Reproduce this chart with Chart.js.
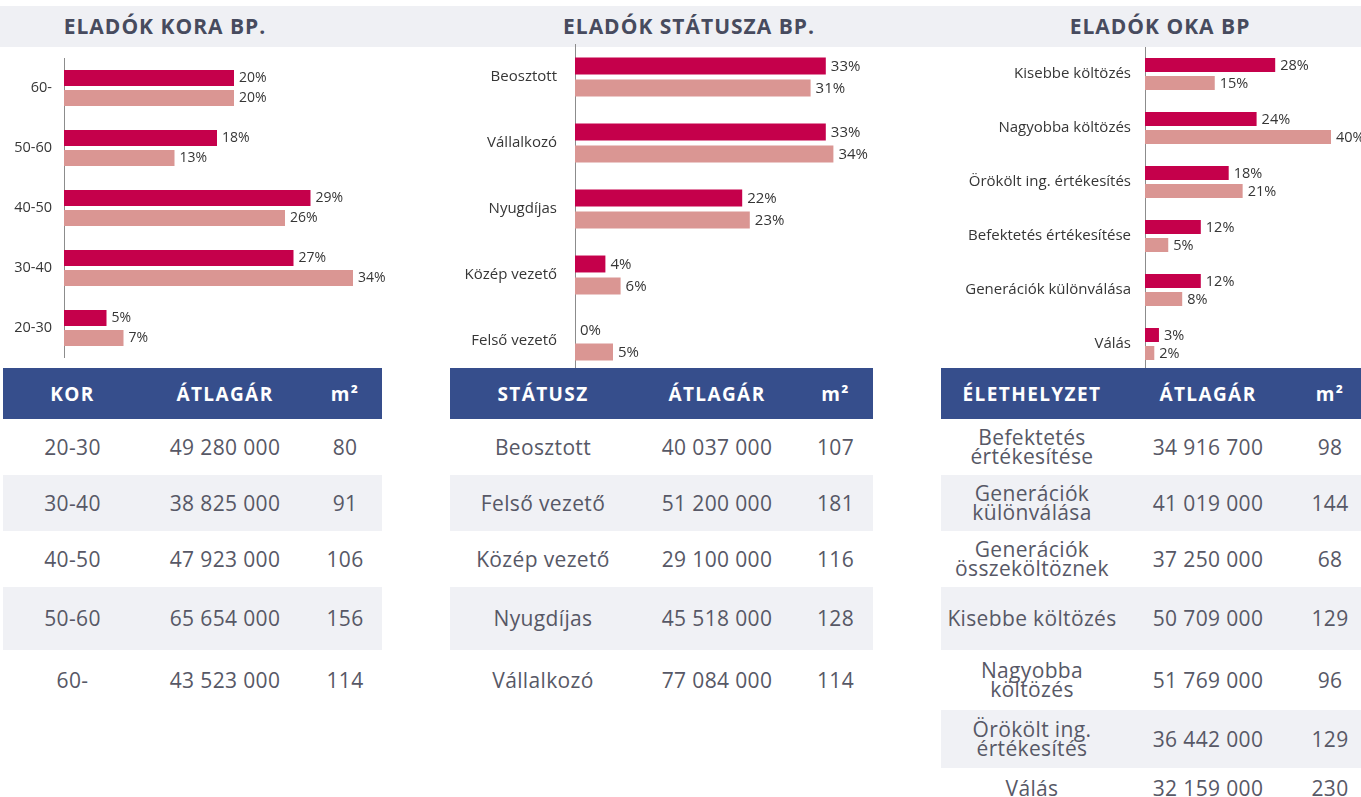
<!DOCTYPE html>
<html lang="hu">
<head>
<meta charset="utf-8">
<title>Eladók Budapesten</title>
<script src="https://cdn.jsdelivr.net/npm/chart.js@4/dist/chart.umd.min.js"></script>
<style>
  html, body { margin: 0; padding: 0; background: #fff; }
  body { width: 1361px; height: 797px; position: relative; overflow: hidden; font-family: 'Open Sans', sans-serif; }
  .band { position: absolute; left: 0; top: 6px; width: 1361px; height: 41px; background: #eff0f4; }
  .title { position: absolute; top: 6px; height: 41px; line-height: 41px; font-weight: 700; font-size: 21px;
           color: #474b5e; letter-spacing: 1px; transform: translateX(-50%); white-space: nowrap; }
  canvas { position: absolute; }
  table { position: absolute; top: 368px; border-collapse: collapse; table-layout: fixed; color: #575866;
          font-size: 21px; letter-spacing: 0.35px; z-index: 2; background: #fff; }
  th { background: #364e8c; color: #fff; font-weight: 700; font-size: 19px; letter-spacing: 1.4px; height: 51px; padding: 0; text-align: center; }
  td { padding: 0; text-align: center; white-space: pre-line; line-height: 19px; }
  tbody tr:nth-child(even) td { background: #f0f1f5; }
  tbody tr:nth-child(1) td, tbody tr:nth-child(2) td, tbody tr:nth-child(3) td { height: 56px; }
  tbody tr:nth-child(4) td { height: 63px; }
  tbody tr:nth-child(5) td { height: 60px; }
  tbody tr:nth-child(6) td { height: 58px; }
  tbody tr:nth-child(7) td { height: 40px; }
  #t-kor { left: 3px; width: 379px; }
  #t-statusz { left: 450px; width: 423px; }
  #t-ok { left: 941px; width: 426px; }
</style>
</head>
<body>
<div class="band"></div>
<div class="title" style="left:165px">ELADÓK KORA BP.</div>
<div class="title" style="left:689px">ELADÓK STÁTUSZA BP.</div>
<div class="title" style="left:1160px">ELADÓK OKA BP</div>

<canvas id="c-kor" width="404" height="300" style="left:0;top:58px"></canvas>
<canvas id="c-statusz" width="470" height="330" style="left:420px;top:44px"></canvas>
<canvas id="c-ok" width="411" height="324" style="left:950px;top:47px"></canvas>

<table id="t-kor">
  <colgroup><col style="width:139px"><col style="width:166px"><col style="width:74px"></colgroup>
  <thead><tr><th>KOR</th><th>ÁTLAGÁR</th><th>m²</th></tr></thead>
  <tbody></tbody>
</table>
<table id="t-statusz">
  <colgroup><col style="width:186px"><col style="width:162px"><col style="width:75px"></colgroup>
  <thead><tr><th>STÁTUSZ</th><th>ÁTLAGÁR</th><th>m²</th></tr></thead>
  <tbody></tbody>
</table>
<table id="t-ok">
  <colgroup><col style="width:182px"><col style="width:170px"><col style="width:74px"></colgroup>
  <thead><tr><th>ÉLETHELYZET</th><th>ÁTLAGÁR</th><th>m²</th></tr></thead>
  <tbody></tbody>
</table>

<script>
// --- Eladók kora (%)
const korLabels = ['60-', '50-60', '40-50', '30-40', '20-30'];
const korDark = [20, 18, 29, 27, 5];
const korLight = [20, 13, 26, 34, 7];

// --- Eladók státusza (%)
const statuszLabels = ['Beosztott', 'Vállalkozó', 'Nyugdíjas', 'Közép vezető', 'Felső vezető'];
const statuszDark = [33, 33, 22, 4, 0];
const statuszLight = [31, 34, 23, 6, 5];

// --- Eladók oka (%)
const okLabels = ['Kisebbe költözés', 'Nagyobba költözés', 'Örökölt ing. értékesítés',
                  'Befektetés értékesítése', 'Generációk különválása', 'Válás'];
const okDark = [28, 24, 18, 12, 12, 3];
const okLight = [15, 40, 21, 5, 8, 2];

// --- táblázatok
const korRows = ['20-30', '30-40', '40-50', '50-60', '60-'];
const korPrice = [49280000, 38825000, 47923000, 65654000, 43523000];
const korArea = [80, 91, 106, 156, 114];

const statuszRows = ['Beosztott', 'Felső vezető', 'Közép vezető', 'Nyugdíjas', 'Vállalkozó'];
const statuszPrice = [40037000, 51200000, 29100000, 45518000, 77084000];
const statuszArea = [107, 181, 116, 128, 114];

const okRows = ['Befektetés\nértékesítése', 'Generációk\nkülönválása', 'Generációk\nösszeköltöznek',
                'Kisebbe költözés', 'Nagyobba\nköltözés', 'Örökölt ing.\nértékesítés', 'Válás'];
const okPrice = [34916700, 41019000, 37250000, 50709000, 51769000, 36442000, 32159000];
const okArea = [98, 144, 68, 129, 96, 129, 230];

const DARK = '#c5004b';
const LIGHT = '#da9693';
const FONT = "'Open Sans', sans-serif";

// százalék felirat a sávok végére
const valueLabels = {
  id: 'valueLabels',
  afterDatasetsDraw(chart, args, opts) {
    const { ctx } = chart;
    ctx.save();
    ctx.font = `${opts.size}px ${FONT}`;
    ctx.fillStyle = '#363636';
    ctx.textBaseline = 'middle';
    ctx.textAlign = 'left';
    chart.data.datasets.forEach((ds, i) => {
      chart.getDatasetMeta(i).data.forEach((bar, j) => {
        ctx.fillText(ds.data[j] + '%', bar.x + 5, bar.y + 0.5);
      });
    });
    ctx.restore();
  }
};

function makeBarChart(id, labels, dark, light, o) {
  return new Chart(document.getElementById(id), {
    type: 'bar',
    data: {
      labels,
      datasets: [
        { data: dark, backgroundColor: DARK, categoryPercentage: 0.667, barPercentage: o.barPct },
        { data: light, backgroundColor: LIGHT, categoryPercentage: 0.667, barPercentage: o.barPct }
      ]
    },
    options: {
      indexAxis: 'y',
      responsive: false,
      animation: false,
      layout: { padding: { top: 0, bottom: 0, left: 0, right: o.padRight } },
      plugins: {
        legend: { display: false },
        tooltip: { enabled: false },
        valueLabels: { size: o.valueSize }
      },
      scales: {
        x: { display: false, min: 0, max: 40 },
        y: {
          grid: { display: false, drawTicks: false },
          border: { display: true, color: '#8c8c8c', width: 1 },
          ticks: { color: '#363636', padding: o.tickPad, font: { family: FONT, size: o.tickSize } },
          afterFit(scale) {
            // fix axis width, and let the category bands use the full canvas height
            scale.width = o.axisWidth;
            scale.paddingTop = 0;
            scale.paddingBottom = 0;
          }
        }
      }
    },
    plugins: [valueLabels]
  });
}

makeBarChart('c-kor', korLabels, korDark, korLight,
  { axisWidth: 64, tickPad: 12, tickSize: 14.5, valueSize: 14, barPct: 0.8, padRight: 0 });
makeBarChart('c-statusz', statuszLabels, statuszDark, statuszLight,
  { axisWidth: 155, tickPad: 18, tickSize: 15, valueSize: 15, barPct: 0.77, padRight: 11 });
makeBarChart('c-ok', okLabels, okDark, okLight,
  { axisWidth: 195, tickPad: 14, tickSize: 15, valueSize: 14.5, barPct: 0.78, padRight: 30 });

const fmt = n => String(n).replace(/\B(?=(\d{3})+(?!\d))/g, ' ');

function fillTable(id, rows, price, area) {
  const body = document.querySelector(`#${id} tbody`);
  rows.forEach((r, i) => {
    const tr = document.createElement('tr');
    [r, fmt(price[i]), String(area[i])].forEach(txt => {
      const td = document.createElement('td');
      td.textContent = txt;
      tr.appendChild(td);
    });
    body.appendChild(tr);
  });
}

fillTable('t-kor', korRows, korPrice, korArea);
fillTable('t-statusz', statuszRows, statuszPrice, statuszArea);
fillTable('t-ok', okRows, okPrice, okArea);
</script>
</body>
</html>
